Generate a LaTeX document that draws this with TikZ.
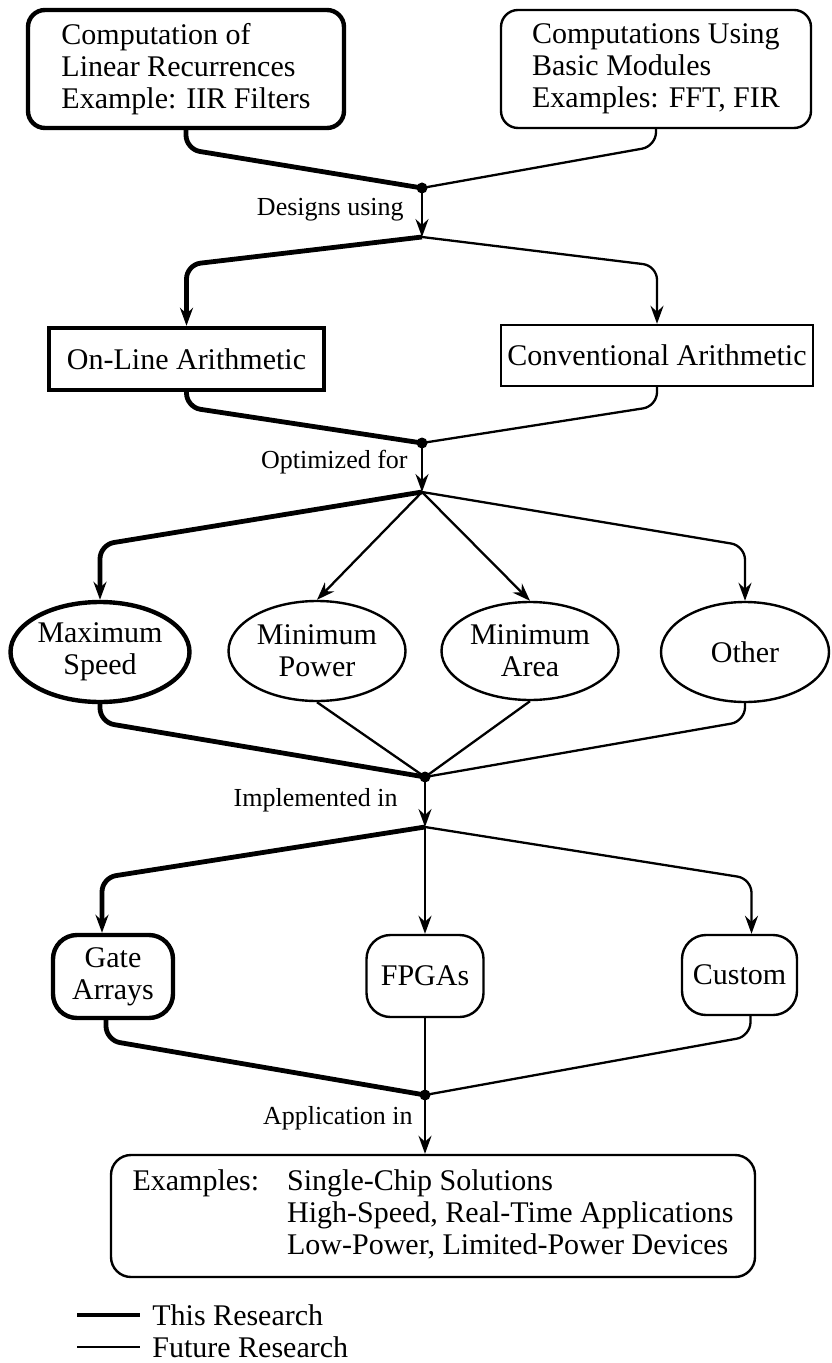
\documentclass[tikz,border=0pt]{standalone}
\usepackage{fontspec}
\setmainfont{Liberation Serif}
\usetikzlibrary{shapes.geometric, arrows.meta, positioning, calc}
\newcommand{\boxfont}{\fontsize{15}{16}\selectfont}
\newcommand{\lblfont}{\fontsize{13}{14}\selectfont}
\tikzset{rbox/.style={draw, rectangle, rounded corners=8.5pt, line width=1.2pt, font=\boxfont, align=left},
         sbox/.style={draw, rectangle, line width=1.2pt, font=\boxfont, inner sep=2pt},
         oval/.style={draw, ellipse, line width=1.2pt, font=\boxfont, align=center, inner sep=0pt},
         chip/.style={draw, rectangle, rounded corners=12pt, line width=1.2pt, font=\boxfont, align=center, inner sep=0pt},
         ours/.style={line width=2.2pt},
         thisres/.style={line width=2.4pt, rounded corners=7pt},
         futres/.style={line width=1.15pt, rounded corners=7pt},
         dot/.style={circle, fill, inner sep=0pt, minimum size=5.5pt},
         lbl/.style={font=\lblfont, anchor=east, inner sep=0pt}}

\begin{document}
\begin{tikzpicture}[x=0.5pt, y=-0.5pt, >={Stealth[length=9pt, width=6.5pt, inset=3pt]}]
    \useasboundingbox (0,0) rectangle (831,1363);

    % sources
    \node[rbox, ours, minimum width=158pt, minimum height=59pt] (ca) at (186,69)
        {Computation of\\Linear Recurrences\\Example: IIR Filters};
    \node[rbox, minimum width=155pt, minimum height=59pt] (cb) at (656,69)
        {Computations Using\\Basic Modules\\Examples: FFT, FIR};
    \node[dot] (j1) at (422,188) {};
    \coordinate (s1) at (422,237);
    \node[lbl] (l1) at (404,210) {Designs using};

    % arithmetic
    \node[sbox, ours, minimum width=137.5pt, minimum height=31pt] (onl) at (186.5,359) {On-Line Arithmetic};
    \node[sbox, minimum width=156pt, minimum height=30.5pt] (conv) at (657,355.5) {Conventional Arithmetic};
    \node[dot] (j2) at (422,443) {};
    \coordinate (s2) at (422,492);
    \node[lbl] (l2) at (408,462) {Optimized for};

    % goals
    \node[oval, ours, minimum width=89.5pt, minimum height=50pt] (ms) at (100,652) {Maximum\\Speed};
    \node[oval, minimum width=88.5pt, minimum height=50pt] (mp) at (317,651) {Minimum\\Power};
    \node[oval, minimum width=88.5pt, minimum height=49pt] (ma) at (530,651) {Minimum\\Area};
    \node[oval, minimum width=84pt, minimum height=50pt] (ot) at (745,652) {Other};
    \node[dot] (j3) at (425,777) {};
    \coordinate (s3) at (425,827);
    \node[lbl] (l3) at (398,800) {Implemented in};

    % technology
    \node[chip, ours, minimum width=60pt, minimum height=41.5pt] (ga) at (113,976.5) {Gate\\Arrays};
    \node[chip, minimum width=58.5pt, minimum height=41pt] (fp) at (425,976) {FPGAs};
    \node[chip, minimum width=57.5pt, minimum height=40pt] (cu) at (739.5,975) {Custom};
    \node[dot] (j4) at (425,1095) {};
    \node[lbl] (l4) at (413,1118) {Application in};

    \node[rbox, rounded corners=10pt, minimum width=322pt, minimum height=61pt, align=center] (ex) at (433,1216)
        {\begin{tabular}{@{}l@{\hspace{14pt}}l@{}}
         Examples: & Single-Chip Solutions\\
                   & High-Speed, Real-Time Applications\\
                   & Low-Power, Limited-Power Devices
         \end{tabular}};

    % legend
    \coordinate (k1) at (77,1315);
    \coordinate (k2) at (140,1315);
    \coordinate (k3) at (77,1347);
    \coordinate (k4) at (140,1347);
    \node[anchor=west, inner sep=0pt, font=\boxfont] (thisr) at (152,1315) {This Research};
    \node[anchor=west, inner sep=0pt, font=\boxfont] (futr) at (152,1347) {Future Research};
    \draw[thisres] (k1) -- (k2);
    \draw[futres] (k3) -- (k4);

    % connectors
    \draw[thisres] (ca.south) -- ++(0,19) -- (j1.center);
    \draw[futres] (cb.south) -- ++(0,17) -- (j1.center);
    \draw[futres,->] (j1.center) -- (s1);
    \draw[thisres,->] (s1) -- ($(onl.north)+(0,-61)$) -- (onl.north);
    \draw[futres,->] (s1) -- ($(conv.north)+(0,-58)$) -- (conv.north);

    \draw[thisres] (onl.south) -- ++(0,15) -- (j2.center);
    \draw[futres] (conv.south) -- ++(0,19) -- (j2.center);
    \draw[futres,->] (j2.center) -- (s2);
    \draw[thisres,->] (s2) -- ($(ms.north)+(0,-55)$) -- (ms.north);
    \draw[futres,->] (s2) -- (mp.north);
    \draw[futres,->] (s2) -- (ma.north);
    \draw[futres,->] (s2) -- ($(ot.north)+(0,-55)$) -- (ot.north);

    \draw[thisres] (ms.south) -- ++(0,18) -- (j3.center);
    \draw[futres] (mp.south) -- (j3.center);
    \draw[futres] (ma.south) -- (j3.center);
    \draw[futres] (ot.south) -- ++(0,18) -- (j3.center);
    \draw[futres,->] (j3.center) -- (s3);
    \draw[thisres,->] (s3) -- ($(ga.north)+(-11,-55)$) -- ($(ga.north)+(-11,0)$);
    \draw[futres,->] (s3) -- (fp.north);
    \draw[futres,->] (s3) -- ($(cu.north)+(12,-55)$) -- ($(cu.north)+(12,0)$);

    \draw[thisres] ($(ga.south)+(-7,0)$) -- ++(0,20) -- (j4.center);
    \draw[futres] (fp.south) -- (j4.center);
    \draw[futres] ($(cu.south)+(11,0)$) -- ++(0,20) -- (j4.center);
    \draw[futres,->] (j4.center) -- (ex.north -| j4);
\end{tikzpicture}
\end{document}
